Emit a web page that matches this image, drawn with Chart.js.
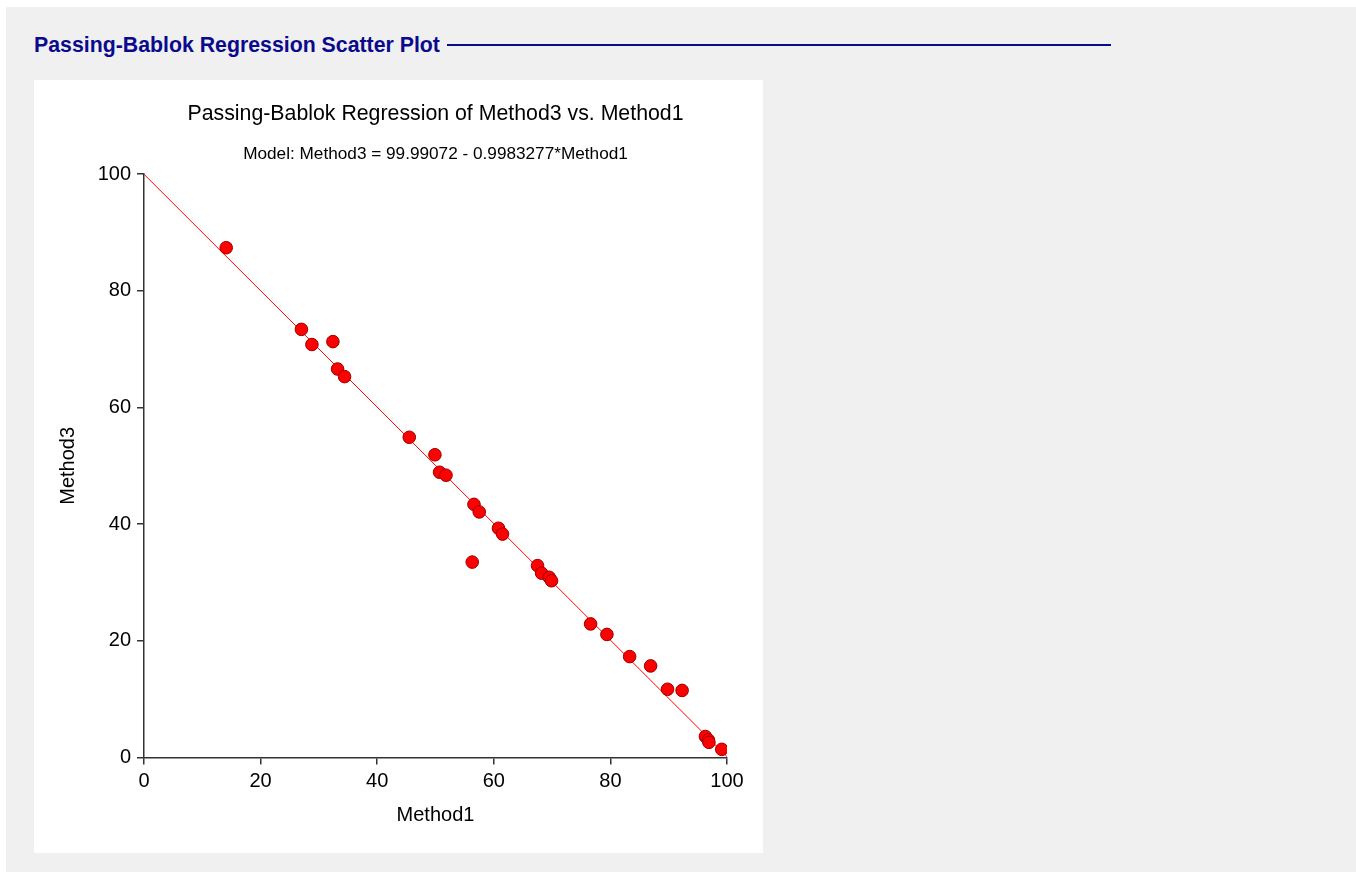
<!DOCTYPE html>
<html lang="en">
<head>
    <meta charset="UTF-8">
    <title>Passing-Bablok Regression Scatter Plot</title>
    <script src="https://cdn.jsdelivr.net/npm/chart.js"></script>
    <style>
        body { margin: 0; background: #ffffff; font-family: Arial, "Liberation Sans", sans-serif; }
        #page { position: absolute; left: 6px; top: 7px; width: 1350px; height: 865px; background: #f0f0f0; }
        #heading { position: absolute; left: 28px; top: 26px; font-size: 21.3px; line-height: 24px; font-weight: bold; color: #0a0a8c; white-space: nowrap; }
        #rule { position: absolute; left: 441px; top: 37px; width: 664px; height: 2px; background: #0a0a8c; }
        #panel { position: absolute; left: 28px; top: 73px; width: 729px; height: 773px; background: #ffffff; }
    </style>
</head>
<body>
    <div id="page">
        <div id="heading">Passing-Bablok Regression Scatter Plot</div>
        <div id="rule"></div>
        <div id="panel"><canvas id="pbChart" width="729" height="773"></canvas></div>
    </div>

    <script>
        // Method1 (x) and Method3 (y) values
        const method1 = [14.1, 27.0, 28.8, 32.4, 33.2, 34.4, 45.5, 49.9, 50.7, 51.8,
                         56.6, 57.5, 60.8, 61.5, 56.3, 67.5, 68.2, 69.5, 69.9, 76.6,
                         79.4, 83.3, 86.9, 89.8, 92.3, 96.3, 96.8, 96.9, 99.1];
        const method3 = [87.4, 73.4, 70.8, 71.3, 66.6, 65.3, 54.9, 51.9, 48.9, 48.4,
                         43.4, 42.1, 39.3, 38.3, 33.5, 32.9, 31.6, 30.9, 30.3, 22.9,
                         21.1, 17.3, 15.7, 11.7, 11.5, 3.6, 3.0, 2.6, 1.4];

        // regression line end points (Method3 = 99.99072 - 0.9983277*Method1)
        const fitX = [0, 100];
        const fitY = [99.99072, 0.15795];

        const axisTicks = [0, 20, 40, 60, 80, 100];

        const points = method1.map((x, i) => ({ x: x, y: method3[i] }));
        const fitLine = fitX.map((x, i) => ({ x: x, y: fitY[i] }));

        const tickFont = { family: 'Arial, "Liberation Sans"', size: 20 };
        const titleFont = { family: 'Arial, "Liberation Sans"', size: 20 };

        new Chart(document.getElementById('pbChart'), {
            type: 'scatter',
            data: {
                datasets: [{
                    data: points,
                    backgroundColor: '#ff0000',
                    borderColor: '#990000',
                    borderWidth: 1,
                    pointRadius: 6.3,
                    order: 0
                }, {
                    type: 'line',
                    data: fitLine,
                    borderColor: '#ff0000',
                    borderWidth: 1,
                    pointRadius: 0,
                    fill: false,
                    order: 1
                }]
            },
            options: {
                responsive: false,
                animation: false,
                layout: { padding: { left: 0, right: 36, top: 0, bottom: 0 } },
                plugins: {
                    legend: { display: false },
                    tooltip: { enabled: false },
                    title: {
                        display: true,
                        fullSize: false,
                        text: 'Passing-Bablok Regression of Method3 vs. Method1',
                        color: '#000',
                        font: { family: 'Arial, "Liberation Sans"', size: 21.3, weight: 'normal' },
                        padding: { top: 21, bottom: 0 }
                    },
                    subtitle: {
                        display: true,
                        fullSize: false,
                        text: 'Model: Method3 = 99.99072 - 0.9983277*Method1',
                        color: '#000',
                        font: { family: 'Arial, "Liberation Sans"', size: 17.2 },
                        padding: { top: 17, bottom: 10 }
                    }
                },
                scales: {
                    x: {
                        type: 'linear',
                        min: 0,
                        max: 100,
                        afterFit: s => { s.height = 95.5; },
                        afterBuildTicks: s => { s.ticks = axisTicks.map(v => ({ value: v })); },
                        border: { color: '#333', width: 1.5 },
                        grid: { drawOnChartArea: false, drawTicks: true, tickLength: 7, color: '#333', lineWidth: 1.5 },
                        ticks: { color: '#000', font: tickFont, padding: 5, maxRotation: 0 },
                        title: { display: true, text: 'Method1', color: '#000', font: titleFont, padding: { top: 0, bottom: 26 } }
                    },
                    y: {
                        type: 'linear',
                        min: 0,
                        max: 100,
                        afterFit: s => { s.width = 110; },
                        afterBuildTicks: s => { s.ticks = axisTicks.map(v => ({ value: v })); },
                        border: { color: '#333', width: 1.5 },
                        grid: { drawOnChartArea: false, drawTicks: true, tickLength: 7, color: '#333', lineWidth: 1.5 },
                        ticks: { color: '#000', font: tickFont, padding: 6 },
                        title: { display: true, text: 'Method3', color: '#000', font: titleFont, padding: { top: 22, bottom: 0 } }
                    }
                }
            }
        });
    </script>
</body>
</html>
